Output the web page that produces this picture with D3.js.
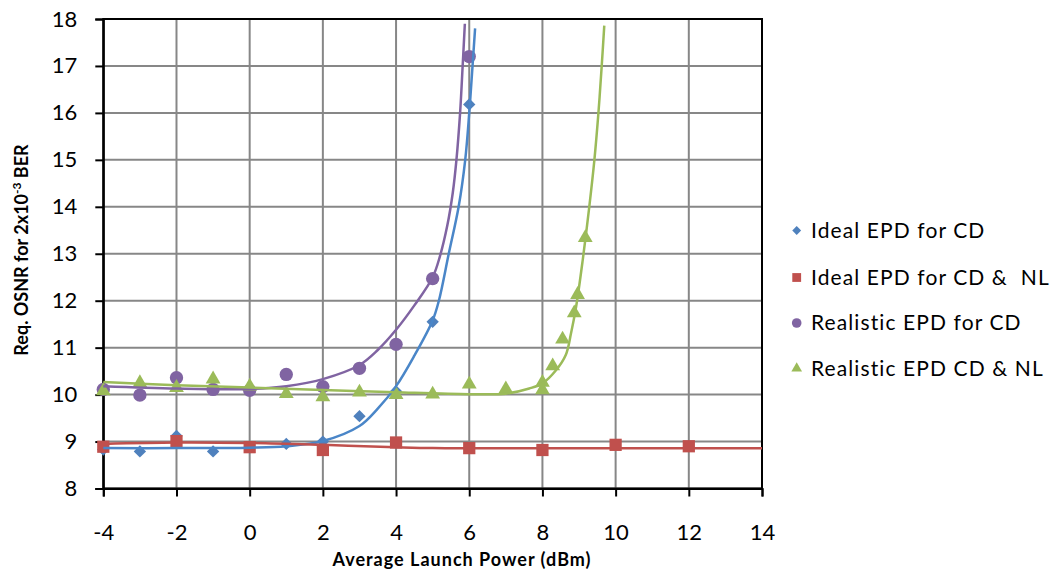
<!DOCTYPE html>
<html>
<head>
<meta charset="utf-8">
<script src="https://cdn.jsdelivr.net/npm/d3@7"></script>
<style>
  body { margin: 0; background: #fff; }
  text { font-family: Lato, "Open Sans", sans-serif; fill: #000; }
</style>
</head>
<body>
<svg id="chart" width="1057" height="574"></svg>
<script>
// Axis ticks
const powerTicks = [-4, -2, 0, 2, 4, 6, 8, 10, 12, 14];
const osnrTicks = [8, 9, 10, 11, 12, 13, 14, 15, 16, 17, 18];

// Series names
const seriesNames = ["Ideal EPD for CD", "Ideal EPD for CD &  NL", "Realistic EPD for CD", "Realistic EPD CD & NL"];

// Measured points: launch power (dBm) and required OSNR (dB)
const idealCdPower = [-4, -3, -2, -1, 0, 1, 2, 3, 4, 5, 6];
const idealCdOsnr = [8.83, 8.79, 9.12, 8.79, 8.87, 8.95, 9.0, 9.54, 10.07, 11.55, 16.18];

const idealCdNlPower = [-4, -2, 0, 2, 4, 6, 8, 10, 12];
const idealCdNlOsnr = [8.89, 9.01, 8.88, 8.82, 8.98, 8.86, 8.82, 8.93, 8.9];

const realCdPower = [-4, -3, -2, -1, 0, 1, 2, 3, 4, 5, 6];
const realCdOsnr = [10.11, 9.99, 10.36, 10.11, 10.09, 10.43, 10.17, 10.56, 11.07, 12.47, 17.2];

const realCdNlPower = [-4, -3, -2, -1, 0, 1, 2, 3, 4, 5, 6, 7, 8, 8, 8.28, 8.55, 8.87, 8.96, 9.17];
const realCdNlOsnr = [10.1, 10.27, 10.17, 10.35, 10.2, 10.04, 9.97, 10.07, 10.02, 10.03, 10.24, 10.14, 10.28, 10.12, 10.63, 11.2, 11.76, 12.15, 13.36];

// Fitted trend curves (power, OSNR)
const idealCdFitPower = [-4, -2, 0, 1, 2, 3, 3.5, 4, 4.5, 5, 5.17, 5.44, 5.71, 5.89, 6.0, 6.09, 6.16];
const idealCdFitOsnr = [8.86, 8.86, 8.87, 8.9, 9.01, 9.33, 9.7, 10.18, 10.83, 11.58, 12.0, 13.0, 14.0, 15.0, 16.0, 17.0, 17.8];

const idealCdNlFitPower = [-4, -2, 0, 2, 4, 5, 6, 8, 10, 12, 14];
const idealCdNlFitOsnr = [8.95, 8.98, 8.97, 8.93, 8.88, 8.86, 8.855, 8.855, 8.855, 8.855, 8.855];

const realCdFitPower = [-4, -2, 0, 1, 2, 3, 3.5, 4, 4.5, 5, 5.2, 5.4, 5.55, 5.65, 5.75, 5.82, 5.88];
const realCdFitOsnr = [10.18, 10.13, 10.12, 10.18, 10.33, 10.63, 10.95, 11.38, 11.9, 12.5, 12.95, 13.6, 14.3, 15.0, 16.0, 17.0, 17.9];

const realCdNlFitPower = [-4, -2, 0, 2, 4, 6, 7, 7.64, 8, 8.37, 8.64, 8.78, 8.92, 9.1, 9.28, 9.42, 9.53, 9.62, 9.69];
const realCdNlFitOsnr = [10.27, 10.2, 10.15, 10.1, 10.05, 10.01, 10.02, 10.13, 10.24, 10.52, 10.85, 11.3, 11.87, 12.86, 14.0, 15.0, 16.0, 17.0, 17.86];

const colors = ["#4f81bd", "#c0504d", "#8064a2", "#9bbb59"];
const lineColors = ["#4a86c8", "#c0504d", "#8064a2", "#9bbb59"];

const svg = d3.select("#chart");
const plot = { left: 103.3, right: 762, top: 19, bottom: 488.5 };

const x = d3.scaleLinear().domain([-4, 14]).range([plot.left, plot.right]);
const y = d3.scaleLinear().domain([8, 18]).range([plot.bottom, plot.top]);

// Gridlines
const grid = svg.append("g");
grid.selectAll("line.v").data(powerTicks).join("line")
  .attr("x1", d => x(d)).attr("x2", d => x(d))
  .attr("y1", plot.top).attr("y2", plot.bottom)
  .attr("stroke", "#878787").attr("stroke-width", 2);
grid.selectAll("line.h").data(osnrTicks).join("line")
  .attr("x1", plot.left).attr("x2", plot.right)
  .attr("y1", d => y(d)).attr("y2", d => y(d))
  .attr("stroke", "#878787").attr("stroke-width", 2);

// Plot frame
svg.append("rect")
  .attr("x", plot.left).attr("y", plot.top)
  .attr("width", plot.right - plot.left).attr("height", plot.bottom - plot.top)
  .attr("fill", "none").attr("stroke", "#000").attr("stroke-width", 2);

// Axes (plain hyphen for negative numbers)
const plainNumber = d => String(d);
const xAxis = d3.axisBottom(x).tickValues(powerTicks).tickSize(8).tickFormat(plainNumber);
const yAxis = d3.axisLeft(y).tickValues(osnrTicks).tickSize(8).tickFormat(plainNumber);

const gx = svg.append("g").attr("transform", `translate(0,${plot.bottom})`).call(xAxis);
const gy = svg.append("g").attr("transform", `translate(${plot.left},0)`).call(yAxis);
[gx, gy].forEach(g => {
  g.select(".domain").attr("stroke", "#000").attr("stroke-width", 2);
  g.selectAll(".tick line").attr("stroke", "#000").attr("stroke-width", 2);
  g.selectAll(".tick text").attr("font-size", 22).attr("font-family", "Lato, sans-serif").attr("fill", "#000");
});
gx.selectAll(".tick text").attr("dy", "0.32em").attr("y", 44);
gy.selectAll(".tick text").attr("x", -26);

// Axis titles
svg.append("text")
  .attr("x", 462).attr("y", 566)
  .attr("text-anchor", "middle").attr("font-size", 18).attr("font-weight", "bold")
  .attr("letter-spacing", 1)
  .text("Average Launch Power (dBm)");

const yTitle = svg.append("text")
  .attr("transform", `translate(28,250) rotate(-90)`)
  .attr("text-anchor", "middle").attr("font-size", 18).attr("font-weight", "bold");
yTitle.append("tspan").text("Req. OSNR for 2x10");
yTitle.append("tspan").attr("font-size", 12).attr("dy", -7).text("-3");
yTitle.append("tspan").attr("dy", 7).text(" BER");

// Marker shapes
function markerPath(i, scale) {
  const s = scale || 1;
  if (i === 0) return d3.symbol().type(d3.symbolSquare).size(76 * s * s)();
  if (i === 1) return d3.symbol().type(d3.symbolSquare).size(150 * s * s)();
  if (i === 2) return d3.symbol().type(d3.symbolCircle).size(140 * s * s)();
  return d3.symbol().type(d3.symbolTriangle).size(95 * s * s)();
}
function markerTransform(i, px, py) {
  return i === 0 ? `translate(${px},${py}) rotate(45)` : (i === 3 ? `translate(${px},${py + 1})` : `translate(${px},${py})`);
}

const pointSets = [
  [idealCdPower, idealCdOsnr],
  [idealCdNlPower, idealCdNlOsnr],
  [realCdPower, realCdOsnr],
  [realCdNlPower, realCdNlOsnr]
];
const fitSets = [
  [idealCdFitPower, idealCdFitOsnr],
  [idealCdNlFitPower, idealCdNlFitOsnr],
  [realCdFitPower, realCdFitOsnr],
  [realCdNlFitPower, realCdNlFitOsnr]
];

// Data markers
pointSets.forEach(([px, py], i) => {
  svg.append("g").selectAll("path").data(px.map((p, k) => [p, py[k]])).join("path")
    .attr("d", markerPath(i))
    .attr("transform", d => markerTransform(i, x(d[0]), y(d[1])))
    .attr("fill", colors[i]);
});

// Trend curves
const line = d3.line().x(d => x(d[0])).y(d => y(d[1])).curve(d3.curveCatmullRom.alpha(0.5));
fitSets.forEach(([fx, fy], i) => {
  svg.append("path")
    .datum(fx.map((p, k) => [p, fy[k]]))
    .attr("d", line)
    .attr("fill", "none")
    .attr("stroke", lineColors[i])
    .attr("stroke-width", 2.5);
});

// Legend
const legendRows = [230.5, 277.5, 323, 369];
const legend = svg.append("g");
seriesNames.forEach((name, i) => {
  legend.append("path")
    .attr("d", markerPath(i, 0.72))
    .attr("transform", markerTransform(i, 796.7, legendRows[i] - (i === 3 ? 1.5 : 0)))
    .attr("fill", colors[i]);
  legend.append("text")
    .attr("x", 811).attr("y", legendRows[i]).attr("dy", "0.35em")
    .attr("font-size", 21)
    .attr("letter-spacing", 1.1)
    .attr("xml:space", "preserve")
    .style("white-space", "pre")
    .text(name);
});
</script>
</body>
</html>
